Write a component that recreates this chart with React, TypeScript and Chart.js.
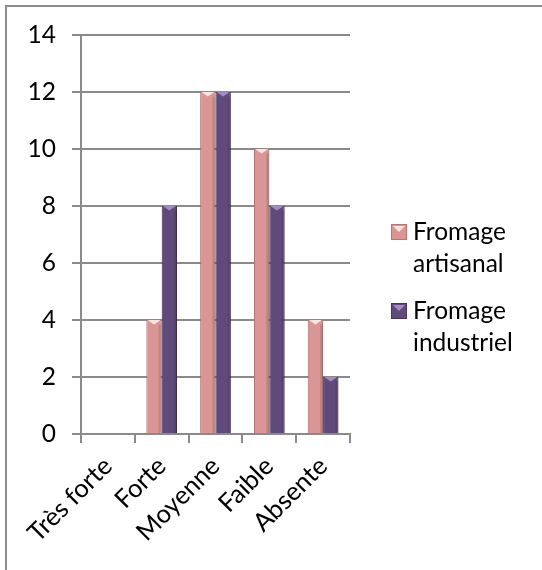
import React, { useEffect, useRef } from "react";
import { Chart, registerables } from "chart.js";

Chart.register(...registerables);

// Intensité perçue, par type de fromage
const categories = ["Très forte", "Forte", "Moyenne", "Faible", "Absente"];
const artisanal = [0, 4, 12, 10, 4];
const industriel = [0, 8, 12, 8, 2];
const seriesLabels = [
  ["Fromage", "artisanal"],
  ["Fromage", "industriel"],
];
const seriesColors = ["#D99694", "#604A7B"];
const seriesEdges = ["#B97472", "#463559"];
const seriesBevels = ["#FBE3E1", "#A38CC2"];
const yTicks = [0, 2, 4, 6, 8, 10, 12, 14];

const FONT = "Lato, 'Noto Sans', sans-serif";
const GRID = "#8a8a8a";

const framePlugin = {
  id: "frame",
  beforeDraw(chart: any) {
    const { ctx, width, height } = chart;
    ctx.save();
    ctx.fillStyle = "#ffffff";
    ctx.fillRect(0, 0, width, height);
    ctx.strokeStyle = "#8c8c8c";
    ctx.lineWidth = 2;
    ctx.beginPath();
    ctx.moveTo(6, height);
    ctx.lineTo(6, 6);
    ctx.lineTo(width, 6);
    ctx.stroke();
    ctx.restore();
  },
};

// soft shadow under the bars
const shadowPlugin = {
  id: "barShadow",
  beforeDatasetsDraw(chart: any) {
    const ctx = chart.ctx;
    ctx.save();
    ctx.shadowColor = "rgba(0,0,0,0.28)";
    ctx.shadowBlur = 5;
    ctx.shadowOffsetX = 2;
    ctx.shadowOffsetY = 2;
  },
  afterDatasetsDraw(chart: any) {
    chart.ctx.restore();
  },
};

// bevelled tops of the bars
const bevelPlugin = {
  id: "bevel",
  afterDatasetsDraw(chart: any) {
    const ctx = chart.ctx;
    ctx.save();
    chart.data.datasets.forEach((ds: any, i: number) => {
      const meta = chart.getDatasetMeta(i);
      meta.data.forEach((bar: any, j: number) => {
        if (!ds.data[j]) return;
        const { x, y, width } = bar.getProps(["x", "y", "width"], true);
        const half = width / 2;
        const depth = Math.min(5, half * 0.6);
        ctx.fillStyle = seriesBevels[i];
        ctx.beginPath();
        ctx.moveTo(x - half + 1, y);
        ctx.lineTo(x + half - 1, y);
        ctx.lineTo(x, y + depth);
        ctx.closePath();
        ctx.fill();
        ctx.fillStyle = "rgba(0,0,0,0.12)";
        ctx.fillRect(x + half - 3, y + depth, 2, bar.base - y - depth);
      });
    });
    ctx.restore();
  },
};

// two-line legend at the right
const legendPlugin = {
  id: "sideLegend",
  afterDraw(chart: any) {
    const ctx = chart.ctx;
    const lineH = 32;
    const entryGap = 79;
    const cy = chart.height / 2 + 2.5;
    const boxX = 391;
    const box = 16;
    const textX = 413;
    ctx.save();
    ctx.font = `24.5px ${FONT}`;
    ctx.textBaseline = "middle";
    ctx.fillStyle = "#000";
    seriesLabels.forEach((lines, i) => {
      const top = cy + (i - 0.5) * entryGap - lineH / 2;
      ctx.fillStyle = seriesColors[i];
      ctx.fillRect(boxX, top - box / 2, box, box);
      ctx.strokeStyle = seriesEdges[i];
      ctx.lineWidth = 1;
      ctx.strokeRect(boxX + 0.5, top - box / 2 + 0.5, box - 1, box - 1);
      ctx.fillStyle = seriesBevels[i];
      ctx.beginPath();
      ctx.moveTo(boxX + 2, top - box / 2 + 2);
      ctx.lineTo(boxX + box - 2, top - box / 2 + 2);
      ctx.lineTo(boxX + box / 2, top);
      ctx.closePath();
      ctx.fill();
      ctx.fillStyle = "#000";
      lines.forEach((t, k) => {
        ctx.fillText(t, textX, top + k * lineH);
      });
    });
    ctx.restore();
  },
};

export default function App() {
  const ref = useRef<HTMLCanvasElement>(null);

  useEffect(() => {
    if (!ref.current) return;
    const chart = new Chart(ref.current, {
      type: "bar",
      data: {
        labels: categories,
        datasets: [
          {
            label: seriesLabels[0].join(" "),
            data: artisanal,
            backgroundColor: seriesColors[0],
            borderColor: seriesEdges[0],
            borderWidth: 1,
          },
          {
            label: seriesLabels[1].join(" "),
            data: industriel,
            backgroundColor: seriesColors[1],
            borderColor: seriesEdges[1],
            borderWidth: 1,
          },
        ],
      },
      options: {
        responsive: false,
        animation: false,
        events: [],
        layout: { padding: { left: 0, right: 192, top: 35, bottom: 0 } },
        datasets: {
          bar: { categoryPercentage: 0.57, barPercentage: 1 },
        },
        plugins: {
          legend: { display: false },
          tooltip: { enabled: false },
          title: { display: false },
        },
        scales: {
          x: {
            grid: {
              display: true,
              drawOnChartArea: false,
              offset: true,
              tickLength: 9,
              color: GRID,
              lineWidth: 2,
            },
            border: { display: true, color: GRID, width: 2 },
            ticks: {
              minRotation: 45,
              maxRotation: 45,
              autoSkip: false,
              padding: 8,
              color: "#000",
              font: { family: FONT, size: 25.5 },
            },
            afterFit(scale: any) {
              scale.height = 136;
            },
          },
          y: {
            min: 0,
            max: 14,
            afterBuildTicks(scale: any) {
              scale.ticks = yTicks.map((v) => ({ value: v }));
            },
            grid: {
              color: GRID,
              lineWidth: 2,
              tickLength: 9,
            },
            border: { display: true, color: GRID, width: 2 },
            ticks: {
              padding: 16,
              color: "#000",
              font: { family: FONT, size: 24.5 },
            },
            afterFit(scale: any) {
              scale.width = 81;
            },
          },
        },
      },
      plugins: [framePlugin, shadowPlugin, bevelPlugin, legendPlugin],
    });
    return () => chart.destroy();
  }, []);

  return (
    <div style={{ position: "absolute", left: 0, top: 0, width: 542, height: 570 }}>
      <canvas ref={ref} width={542} height={570} />
    </div>
  );
}
